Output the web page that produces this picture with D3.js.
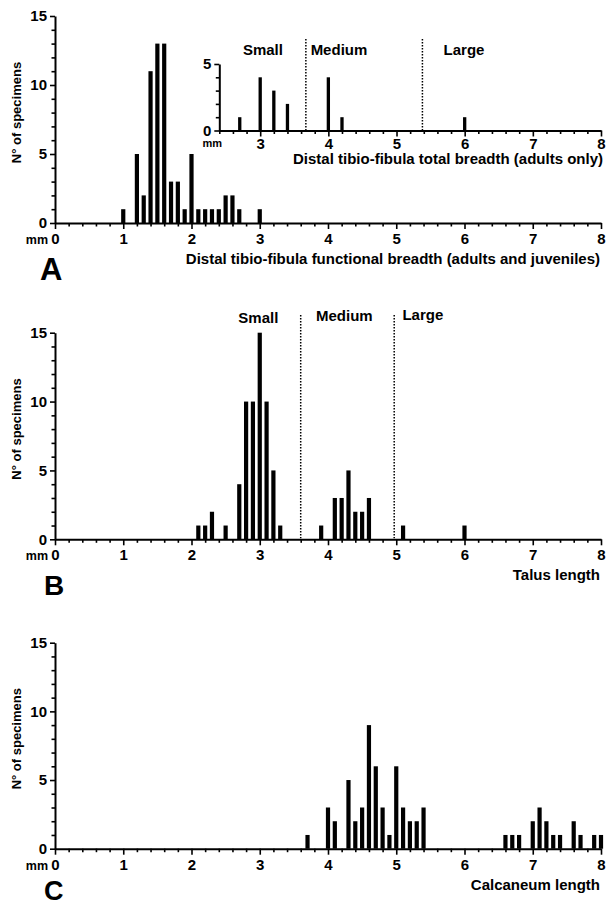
<!DOCTYPE html>
<html>
<head>
<meta charset="utf-8">
<script src="https://cdn.jsdelivr.net/npm/d3@7"></script>
<style>
  html, body { margin: 0; padding: 0; background: #fff; }
  svg { display: block; font-family: "Liberation Sans", Arial, Helvetica, sans-serif; font-weight: bold; }
</style>
</head>
<body>
<svg id="chart" width="609" height="905"></svg>
<script>
// ---------------- DATA ----------------
const xTickValues = [0, 1, 2, 3, 4, 5, 6, 7, 8];
const yTickValues = [0, 5, 10, 15];
const insetXTickValues = [3, 4, 5, 6, 7, 8];
const insetYTickValues = [0, 5];
const sizeClasses = ["Small", "Medium", "Large"];

// Panel A: distal tibio-fibula functional breadth (adults and juveniles)
const tibioBins   = [1.0, 1.2, 1.3, 1.4, 1.5, 1.6, 1.7, 1.8, 1.9, 2.0, 2.1, 2.2, 2.3, 2.4, 2.5, 2.6, 2.7, 3.0];
const tibioCounts = [1,   5,   2,   11,  13,  13,  3,   3,   1,   5,   1,   1,   1,   1,   2,   2,   1,   1];

// Panel A inset: distal tibio-fibula total breadth (adults only)
const totalBins   = [2.7, 3.0, 3.2, 3.4, 4.0, 4.2, 6.0];
const totalCounts = [1,   4,   3,   2,   4,   1,   1];
const totalBoundaries = [3.67, 5.38];

// Panel B: talus length
const talusBins   = [2.1, 2.2, 2.3, 2.5, 2.7, 2.8, 2.9, 3.0, 3.1, 3.2, 3.3, 3.9, 4.1, 4.2, 4.3, 4.4, 4.5, 4.6, 5.1, 6.0];
const talusCounts = [1,   1,   2,   1,   4,   10,  10,  15,  10,  5,   1,   1,   3,   3,   5,   2,   2,   3,   1,   1];
const talusBoundaries = [3.6, 4.97];

// Panel C: calcaneum length
const calcBins   = [3.7, 4.0, 4.1, 4.3, 4.4, 4.5, 4.6, 4.7, 4.8, 4.9, 5.0, 5.1, 5.2, 5.3, 5.4, 6.6, 6.7, 6.8, 7.0, 7.1, 7.2, 7.3, 7.4, 7.6, 7.7, 7.9, 8.0];
const calcCounts = [1,   3,   2,   5,   2,   3,   9,   6,   3,   1,   6,   3,   2,   2,   3,   1,   1,   1,   2,   3,   2,   1,   1,   2,   1,   1,   1];

// ---------------- LAYOUT ----------------
const svg = d3.select("#chart");
const X0 = 55, X1 = 601;
const panels = [
  { letter: "A", y0: 223, y1: 16,    bins: tibioBins, counts: tibioCounts,
    title: "Distal tibio-fibula functional breadth (adults and juveniles)", letterSize: 31, lx: 40, ly: 57 },
  { letter: "B", y0: 539.3, y1: 332.7, bins: talusBins, counts: talusCounts,
    title: "Talus length", letterSize: 28, lx: 44, ly: 56 },
  { letter: "C", y0: 848.7, y1: 642.7, bins: calcBins, counts: calcCounts,
    title: "Calcaneum length", letterSize: 27, lx: 44, ly: 51 }
];

function styleAxis(g) {
  g.select(".domain").attr("stroke", "#000").attr("stroke-width", 2);
  g.selectAll(".tick line").attr("stroke", "#000").attr("stroke-width", 1.6);
  g.selectAll(".tick text").attr("fill", "#000");
}

function drawHistogram(g, x, y, bins, counts, barW) {
  const data = bins.map((b, i) => ({ b, c: counts[i] }));
  g.append("g").selectAll("rect").data(data).join("rect")
    .attr("x", d => x(d.b) - barW / 2)
    .attr("y", d => y(d.c))
    .attr("width", barW)
    .attr("height", d => y(0) - y(d.c))
    .attr("fill", "#000");
}

function drawAxes(g, x, y, xTicks, yTicks, xMinor, yMinor, fontSize, xPad) {
  g.append("g").attr("transform", `translate(0,${y(0)})`)
    .call(d3.axisBottom(x).tickValues(xMinor).tickSize(3.5).tickFormat("").tickSizeOuter(0))
    .call(s => s.select(".domain").remove())
    .call(styleAxis);
  g.append("g").attr("transform", `translate(${x.range()[0]},0)`)
    .call(d3.axisLeft(y).tickValues(yMinor).tickSize(3.5).tickFormat("").tickSizeOuter(0))
    .call(s => s.select(".domain").remove())
    .call(styleAxis);
  const gx = g.append("g").attr("transform", `translate(0,${y(0)})`)
    .call(d3.axisBottom(x).tickValues(xTicks).tickSize(6).tickPadding(xPad).tickSizeOuter(0).tickFormat(d3.format("d")))
    .call(styleAxis);
  gx.selectAll(".tick text").attr("font-size", fontSize).attr("font-family", null).attr("font-weight", "bold");
  const gy = g.append("g").attr("transform", `translate(${x.range()[0]},0)`)
    .call(d3.axisLeft(y).tickValues(yTicks).tickSize(5).tickPadding(3).tickSizeOuter(0).tickFormat(d3.format("d")))
    .call(styleAxis);
  gy.selectAll(".tick text").attr("font-size", fontSize).attr("font-family", null).attr("font-weight", "bold");
}

function range(a, b, step) {
  const out = [];
  for (let v = a; v <= b + 1e-9; v += step) out.push(+v.toFixed(2));
  return out;
}

panels.forEach(p => {
  const g = svg.append("g");
  const x = d3.scaleLinear().domain([0, 8]).range([X0, X1]);
  const y = d3.scaleLinear().domain([0, 15]).range([p.y0, p.y1]);
  const xMinor = range(0, 8, 0.2).filter(v => Math.abs(v - Math.round(v)) > 1e-6);
  const yMinor = range(0, 15, 1).filter(v => v % 5 !== 0);
  drawHistogram(g, x, y, p.bins, p.counts, 4.2);
  drawAxes(g, x, y, xTickValues, yTickValues, xMinor, yMinor, 15, 4.5);

  g.append("text").attr("x", 48).attr("y", p.y0 + 21).attr("text-anchor", "end")
    .attr("font-size", 12.5).text("mm");
  g.append("text").attr("x", 600).attr("y", p.y0 + 41).attr("text-anchor", "end")
    .attr("font-size", 15).text(p.title);
  const cy = (p.y0 + p.y1) / 2 - 7;
  g.append("text").attr("x", 18).attr("y", cy)
    .attr("transform", `rotate(-90,18,${cy})`)
    .attr("text-anchor", "middle").attr("dominant-baseline", "middle")
    .attr("font-size", 13).text("N° of specimens");
  g.append("text").attr("x", p.lx).attr("y", p.y0 + p.ly)
    .attr("font-size", p.letterSize).text(p.letter);
  p.g = g; p.x = x; p.y = y;
});

// ---- Inset (panel A) ----
{
  const g = svg.append("g");
  const x = d3.scaleLinear().domain([2.4, 8]).range([219.3, X1]);
  const y = d3.scaleLinear().domain([0, 5]).range([130.5, 64]);
  const xMinor = range(2.4, 8, 0.2).filter(v => Math.abs(v - Math.round(v)) > 1e-6);
  const yMinor = [1, 2, 3, 4];
  totalBoundaries.forEach(b => {
    g.append("line").attr("x1", x(b)).attr("x2", x(b)).attr("y1", 39).attr("y2", y(0))
      .attr("stroke", "#000").attr("stroke-width", 1.5).attr("stroke-dasharray", "1.5,1.5");
  });
  drawHistogram(g, x, y, totalBins, totalCounts, 3.3);
  drawAxes(g, x, y, insetXTickValues, insetYTickValues, xMinor, yMinor, 15, 1.5);
  g.append("text").attr("x", 222).attr("y", y(0) + 16.5).attr("text-anchor", "end")
    .attr("font-size", 11).text("mm");
  g.append("text").attr("x", 603).attr("y", 164).attr("text-anchor", "end")
    .attr("font-size", 15).text("Distal tibio-fibula total breadth (adults only)");
  const labelPos = [{ v: 3.04, a: "middle" }, { v: 3.74, a: "start" }, { v: 5.99, a: "middle" }];
  sizeClasses.forEach((s, i) => {
    g.append("text").attr("x", x(labelPos[i].v)).attr("y", 55)
      .attr("text-anchor", labelPos[i].a).attr("font-size", 15).text(s);
  });
}

// ---- Size classes (panel B) ----
{
  const p = panels[1];
  const g = p.g, x = p.x;
  talusBoundaries.forEach(b => {
    g.append("line").attr("x1", x(b)).attr("x2", x(b)).attr("y1", 315).attr("y2", p.y0 - 1)
      .attr("stroke", "#000").attr("stroke-width", 1.5).attr("stroke-dasharray", "1.5,1.5");
  });
  const labelPos = [{ v: 2.98, a: "middle", y: 323 }, { v: 4.24, a: "middle", y: 321 }, { v: 5.09, a: "start", y: 320 }];
  sizeClasses.forEach((s, i) => {
    g.append("text").attr("x", x(labelPos[i].v)).attr("y", labelPos[i].y)
      .attr("text-anchor", labelPos[i].a).attr("font-size", 15).text(s);
  });
}
</script>
</body>
</html>
